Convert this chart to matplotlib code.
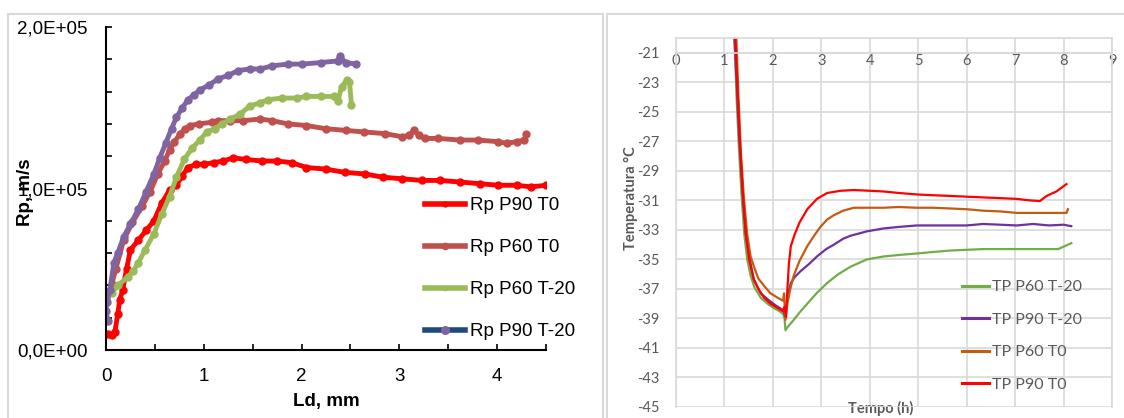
import numpy as np
import matplotlib
matplotlib.use("Agg")
import matplotlib.pyplot as plt
from matplotlib.patches import Rectangle
from matplotlib.lines import Line2D
from matplotlib.ticker import MultipleLocator, FuncFormatter

plt.rcParams['axes.unicode_minus'] = False

# ---------------- Left chart data (Rp in units of 1E+05 m/s vs Ld mm) ----------------
rp_labels = ["Rp P90 T0", "Rp P60 T0", "Rp P60 T-20", "Rp P90 T-20"]

ld_p90_t0 = [0.02,0.06,0.09,0.12,0.14,0.17,0.21,0.25,0.33,0.41,0.49,0.57,0.65,0.72,0.78,0.84,0.92,1.0,1.1,1.2,1.3,1.43,1.6,1.75,1.9,2.05,2.25,2.44,2.65,2.83,3.03,3.23,3.42,3.62,3.82,4.01,4.2,4.35,4.5]
rp_p90_t0 = [0.10,0.09,0.11,0.22,0.31,0.37,0.50,0.62,0.68,0.74,0.80,0.91,0.99,1.02,1.08,1.13,1.15,1.15,1.16,1.17,1.19,1.18,1.17,1.17,1.16,1.13,1.12,1.10,1.09,1.07,1.06,1.05,1.05,1.04,1.03,1.02,1.02,1.01,1.02]

ld_p60_t0 = [0.0,0.03,0.06,0.10,0.18,0.27,0.37,0.45,0.53,0.60,0.65,0.70,0.76,0.81,0.86,0.95,1.08,1.15,1.27,1.4,1.58,1.7,1.86,2.05,2.25,2.45,2.64,2.85,3.03,3.1,3.15,3.2,3.26,3.4,3.62,3.8,4.01,4.1,4.2,4.28,4.3]
rp_p60_t0 = [0.32,0.36,0.41,0.50,0.68,0.79,0.89,0.98,1.09,1.17,1.24,1.29,1.34,1.37,1.39,1.40,1.41,1.42,1.42,1.42,1.43,1.42,1.40,1.39,1.37,1.36,1.35,1.34,1.32,1.33,1.36,1.33,1.31,1.31,1.30,1.30,1.29,1.28,1.29,1.30,1.34]

ld_p60_tm20 = [0.06,0.12,0.22,0.28,0.33,0.40,0.49,0.57,0.65,0.72,0.80,0.88,0.96,1.03,1.11,1.19,1.27,1.37,1.47,1.57,1.66,1.8,1.95,2.05,2.2,2.33,2.37,2.41,2.46,2.49,2.51]
rp_p60_tm20 = [0.35,0.40,0.45,0.49,0.54,0.62,0.72,0.84,0.95,1.07,1.18,1.25,1.30,1.35,1.37,1.40,1.43,1.46,1.51,1.53,1.55,1.56,1.56,1.57,1.57,1.57,1.54,1.63,1.67,1.66,1.52]

ld_p90_tm20 = [0.02,0.0,0.01,0.04,0.08,0.12,0.18,0.25,0.33,0.41,0.49,0.55,0.61,0.67,0.72,0.78,0.84,0.90,0.96,1.05,1.15,1.25,1.35,1.47,1.58,1.70,1.86,2.0,2.2,2.37,2.39,2.45,2.56]
rp_p90_tm20 = [0.18,0.24,0.30,0.37,0.54,0.60,0.70,0.78,0.87,0.98,1.09,1.19,1.28,1.37,1.44,1.50,1.55,1.58,1.61,1.64,1.68,1.70,1.73,1.74,1.74,1.76,1.77,1.77,1.78,1.79,1.82,1.78,1.77]

# ---------------- Right chart data (temperature vs time) ----------------
tp_labels = ["TP P60 T-20", "TP P90 T-20", "TP P60 T0", "TP P90 T0"]

t_p60_tm20 = [1.20,1.25,1.30,1.35,1.41,1.47,1.54,1.62,1.75,1.89,2.02,2.13,2.21,2.24,2.26,2.30,2.43,2.55,2.71,2.90,3.12,3.35,3.60,3.94,4.29,4.6,4.97,5.3,5.66,6.0,6.34,6.7,7.03,7.4,7.89,8.16]
T_p60_tm20 = [-19.5,-24,-27.5,-30.5,-33.3,-35.0,-36.1,-36.9,-37.6,-38.0,-38.3,-38.5,-38.7,-39.0,-39.8,-39.6,-39.1,-38.6,-38.0,-37.3,-36.6,-36.0,-35.5,-35.0,-34.8,-34.7,-34.6,-34.5,-34.4,-34.35,-34.3,-34.3,-34.3,-34.3,-34.3,-33.9]

t_p90_tm20 = [1.20,1.26,1.30,1.34,1.39,1.44,1.52,1.61,1.75,1.89,2.05,2.19,2.23,2.26,2.30,2.37,2.45,2.57,2.75,2.91,3.10,3.26,3.45,3.6,3.94,4.29,4.6,4.97,5.3,5.66,6.0,6.34,6.7,7.03,7.37,7.7,8.0,8.16]
T_p90_tm20 = [-19.5,-23.5,-26.5,-28.7,-31.2,-33.3,-35.0,-36.4,-37.3,-37.7,-38.1,-38.4,-38.6,-38.9,-37.5,-36.6,-36.2,-35.8,-35.3,-34.8,-34.3,-34.0,-33.6,-33.4,-33.1,-32.9,-32.8,-32.7,-32.7,-32.7,-32.7,-32.6,-32.65,-32.7,-32.6,-32.7,-32.65,-32.75]

t_p60_t0 = [1.24,1.29,1.34,1.40,1.47,1.54,1.61,1.70,1.82,1.95,2.10,2.21,2.23,2.26,2.30,2.36,2.43,2.55,2.71,2.85,2.98,3.12,3.26,3.45,3.67,4.0,4.29,4.6,4.97,5.3,5.66,6.0,6.34,6.7,7.03,7.4,7.71,8.06,8.09]
T_p60_t0 = [-19.5,-24,-27.8,-30.8,-33.3,-34.8,-35.5,-36.3,-36.8,-37.3,-37.6,-37.8,-37.3,-39.1,-38.0,-37.0,-36.1,-35.1,-34.1,-33.4,-32.8,-32.3,-32.0,-31.7,-31.5,-31.5,-31.5,-31.45,-31.5,-31.5,-31.55,-31.6,-31.7,-31.75,-31.85,-31.85,-31.85,-31.85,-31.6]

t_p90_t0 = [1.22,1.27,1.32,1.38,1.44,1.51,1.60,1.70,1.82,1.95,2.10,2.20,2.24,2.27,2.30,2.33,2.37,2.45,2.55,2.71,2.91,3.12,3.40,3.67,4.0,4.29,4.6,4.97,5.3,5.66,6.0,6.34,6.7,7.03,7.3,7.51,7.65,7.85,8.06]
T_p90_t0 = [-19.5,-23.5,-27.0,-30.5,-33.2,-35.0,-36.3,-37.0,-37.6,-38.0,-38.3,-38.5,-38.2,-38.9,-37.0,-35.3,-34.1,-33.3,-32.5,-31.6,-30.9,-30.5,-30.35,-30.3,-30.35,-30.4,-30.5,-30.6,-30.65,-30.7,-30.75,-30.8,-30.85,-30.9,-31.0,-31.05,-30.7,-30.4,-29.9]

W, H = 1124, 418
fig = plt.figure(figsize=(W/100, H/100), dpi=100)

# panel frames
fig.patches.append(Rectangle((8/W, -0.05), (603-8)/W, 1 - 14/H + 0.05, transform=fig.transFigure,
                             fill=False, edgecolor='#d9d9d9', lw=1.5))
fig.patches.append(Rectangle((607/W, -0.05), (W+10-607)/W, 1 - 14/H + 0.05, transform=fig.transFigure,
                             fill=False, edgecolor='#d9d9d9', lw=1.5))

# ---------------- Left axes ----------------
axL = fig.add_axes([106/W, 1-350/H, (546-106)/W, (350-27)/H])
lfont = ['Liberation Sans', 'DejaVu Sans']
left_series = [
    (ld_p90_t0, rp_p90_t0, '#FF0000', '#FF0000'),
    (ld_p60_t0, rp_p60_t0, '#C0504D', '#C0504D'),
    (ld_p60_tm20, rp_p60_tm20, '#9BBB59', '#9BBB59'),
    (ld_p90_tm20, rp_p90_tm20, '#8064A2', '#8064A2'),
]
for (x, y, lc, mc), lab in zip(left_series, rp_labels):
    axL.plot(x, np.array(y) * 1e5, color=lc, lw=3.5, marker='o', ms=5,
             mfc=mc, mec=mc, solid_capstyle='round', label=lab)

axL.set_xlim(0, 4.5)
axL.set_ylim(0, 2e5)
axL.spines['top'].set_visible(False)
axL.spines['right'].set_visible(False)
for s in ['left', 'bottom']:
    axL.spines[s].set_linewidth(1.5)
axL.xaxis.set_major_locator(MultipleLocator(0.5))
axL.yaxis.set_major_locator(MultipleLocator(2e4))
axL.xaxis.set_major_formatter(FuncFormatter(lambda v, p: f"{v:.0f}" if abs(v - round(v)) < 1e-6 else ""))
def yfmt(v, p):
    if abs(v / 1e5 - round(v / 1e5)) < 1e-6:
        return f"{v/1e5:.1f}E+0{5 if v > 0 else 0}".replace('.', ',')
    return ""
axL.yaxis.set_major_formatter(FuncFormatter(yfmt))
axL.tick_params(axis='both', direction='in', length=4, width=1.2, labelsize=13.5, colors='black')
axL.tick_params(axis='y', pad=13)
axL.tick_params(axis='x', pad=13)
for t in axL.get_xticklabels() + axL.get_yticklabels():
    t.set_family(lfont)
axL.set_xlabel("Ld, mm", fontsize=13.5, fontweight='bold', family=lfont, labelpad=6)
axL.set_ylabel("Rp, m/s", fontsize=13.5, fontweight='bold', family=lfont)
axL.yaxis.set_label_coords(-0.164, 0.49)

handlesL = [
    Line2D([], [], color='#FF0000', lw=4, marker='o', ms=3.5, mfc='#FF0000', mec='#FF0000'),
    Line2D([], [], color='#C0504D', lw=4, marker='o', ms=4.5, mfc='#C0504D', mec='#C0504D'),
    Line2D([], [], color='#9BBB59', lw=4, marker='o', ms=3, mfc='#9BBB59', mec='#9BBB59'),
    Line2D([], [], color='#1F497D', lw=4, marker='o', ms=5.5, mfc='#8064A2', mec='#8064A2'),
]
legL = axL.legend(handlesL, rp_labels, loc='upper left', bbox_to_anchor=(425/W, 1-197/H),
                  bbox_transform=fig.transFigure, frameon=False, borderpad=0, borderaxespad=0,
                  handlelength=2.13, handletextpad=0.25, labelspacing=1.33,
                  prop={'family': lfont, 'size': 13.5})

# ---------------- Right axes ----------------
axR = fig.add_axes([676/W, 1-407/H, (1112-676)/W, (407-38)/H])
rfont = ['Lato', 'DejaVu Sans']
right_series = [
    (t_p60_tm20, T_p60_tm20, '#70AD47'),
    (t_p90_tm20, T_p90_tm20, '#7030A0'),
    (t_p60_t0, T_p60_t0, '#C55A11'),
    (t_p90_t0, T_p90_t0, '#FF0000'),
]
for (x, y, c), lab in zip(right_series, tp_labels):
    axR.plot(x, y, color=c, lw=1.6, label=lab)

axR.set_xlim(0, 9)
axR.set_ylim(-45, -20)
axR.set_yticks(np.arange(-45, -20, 2))
axR.set_xticks(np.arange(0, 10, 1))
axR.grid(True, color='#d9d9d9', lw=1.2)
axR.set_axisbelow(True)
for s in ['top', 'right', 'left']:
    axR.spines[s].set_color('#d9d9d9')
    axR.spines[s].set_linewidth(1.2)
axR.spines['bottom'].set_position(('data', -21))
axR.spines['bottom'].set_color('#d9d9d9')
axR.spines['bottom'].set_linewidth(1.2)
axR.tick_params(axis='both', length=0, labelsize=10.5, labelcolor='#595959')
axR.tick_params(axis='y', pad=12)
axR.tick_params(axis='x', pad=1)
for t in axR.get_xticklabels() + axR.get_yticklabels():
    t.set_family(rfont)
axR.set_xlabel("Tempo (h)", fontsize=10.5, fontweight='bold', color='#595959', family=rfont)
axR.xaxis.set_label_coords(0.469, -0.003)
axR.xaxis.label.set_va('center')
axR.set_ylabel("Temperatura °C", fontsize=10.5, fontweight='bold', color='#595959', family=rfont)
axR.yaxis.set_label_coords(-0.088, 0.565)

legR = axR.legend(loc='upper left', bbox_to_anchor=(962/W, 1-280/H), bbox_transform=fig.transFigure,
                  frameon=False, borderpad=0, borderaxespad=0, handlelength=1.7,
                  handletextpad=0.2, labelspacing=1.15, prop={'family': rfont, 'size': 11.5})
for t in legR.get_texts():
    t.set_color('#595959')
for h in legR.legend_handles:
    h.set_linewidth(2.2)

fig.savefig("out.png", dpi=100)
